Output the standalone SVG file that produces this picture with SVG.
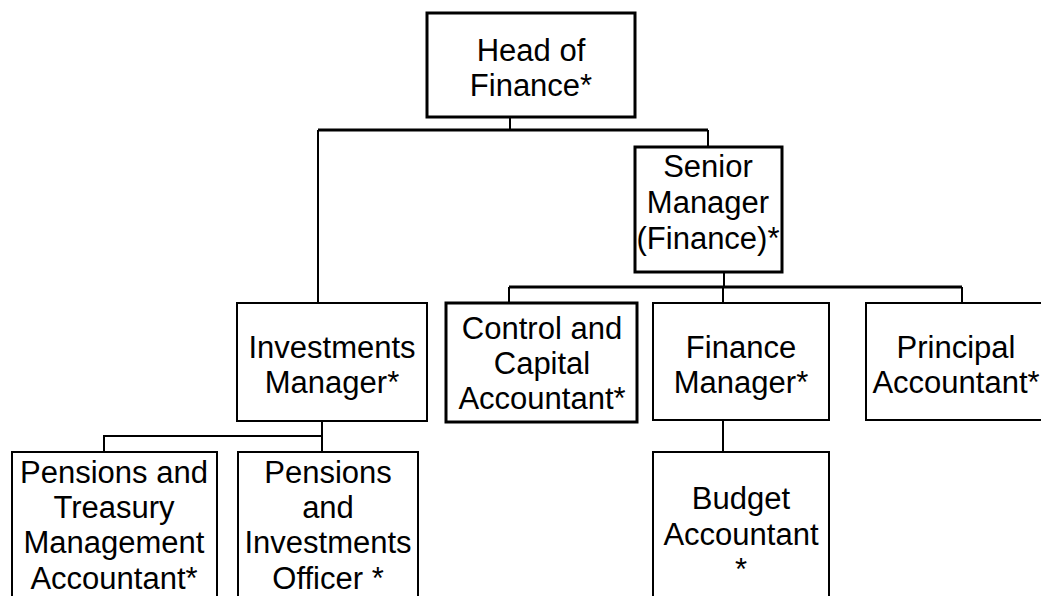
<svg xmlns="http://www.w3.org/2000/svg" width="1041" height="596" viewBox="0 0 1041 596">
<style>
.box{fill:#fff;stroke:#000;stroke-width:2}
.thick{stroke-width:3}
.t{font-family:"Liberation Sans",Arial,sans-serif;font-size:31px;fill:#000;text-anchor:middle}
.c{fill:none;stroke:#000;stroke-width:2}
.ct{stroke-width:3}
</style>
<rect width="1041" height="596" fill="#fff"/>
<g id="connectors">
<path class="c" d="M510 117V130"/>
<path class="c ct" d="M318 130H708"/>
<path class="c" d="M318 130V303M708 130V147"/>
<path class="c" d="M724 272V287"/>
<path class="c ct" d="M509 287H962"/>
<path class="c" d="M509 287V303M723 287V303M962 287V303"/>
<path class="c" d="M322 421V436H104V452M322 436V452"/>
<path class="c" d="M723 420V452"/>
</g>
<g id="head">
<rect class="box thick" x="427" y="13" width="208" height="104"/>
<text class="t" x="531" y="61">Head of</text>
<text class="t" x="531" y="96">Finance*</text>
</g>
<g id="senior">
<rect class="box thick" x="635" y="147" width="147" height="125"/>
<text class="t" x="708" y="177">Senior</text>
<text class="t" x="708" y="213">Manager</text>
<text class="t" x="708" y="249">(Finance)*</text>
</g>
<g id="investments">
<rect class="box" x="237" y="303" width="190" height="118"/>
<text class="t" x="332" y="358">Investments</text>
<text class="t" x="332" y="393">Manager*</text>
</g>
<g id="control">
<rect class="box thick" x="446" y="303" width="191" height="119"/>
<text class="t" x="542" y="339">Control and</text>
<text class="t" x="542" y="374">Capital</text>
<text class="t" x="542" y="409">Accountant*</text>
</g>
<g id="finance-manager">
<rect class="box" x="653" y="303" width="176" height="117"/>
<text class="t" x="741" y="358">Finance</text>
<text class="t" x="741" y="393">Manager*</text>
</g>
<g id="principal">
<rect class="box" x="866" y="303" width="182" height="117"/>
<text class="t" x="956" y="358">Principal</text>
<text class="t" x="956" y="393">Accountant*</text>
</g>
<g id="pensions-treasury">
<rect class="box" x="12" y="452" width="205" height="160"/>
<text class="t" x="114" y="483">Pensions and</text>
<text class="t" x="114" y="518">Treasury</text>
<text class="t" x="114" y="553">Management</text>
<text class="t" x="114" y="589">Accountant*</text>
</g>
<g id="pensions-investments">
<rect class="box" x="238" y="452" width="180" height="160"/>
<text class="t" x="328" y="483">Pensions</text>
<text class="t" x="328" y="518">and</text>
<text class="t" x="328" y="553">Investments</text>
<text class="t" x="328" y="589">Officer *</text>
</g>
<g id="budget">
<rect class="box" x="653" y="452" width="176" height="160"/>
<text class="t" x="741" y="509">Budget</text>
<text class="t" x="741" y="545">Accountant</text>
<text class="t" x="741" y="580">*</text>
</g>
</svg>
